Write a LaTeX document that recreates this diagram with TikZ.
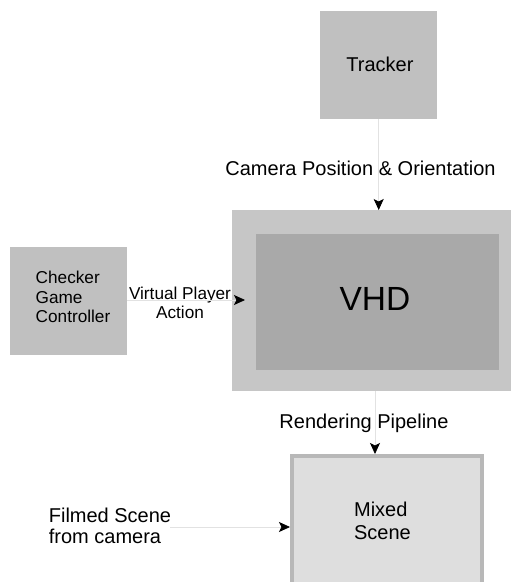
\documentclass[tikz,border=0pt]{standalone}
\usepackage{fontspec}
\setmainfont{Liberation Sans}
\usetikzlibrary{arrows.meta,positioning}
\definecolor{boxgray}{HTML}{C0C0C0}
\definecolor{outergray}{HTML}{C6C6C6}
\definecolor{innergray}{HTML}{A9A9A9}
\definecolor{mixfill}{HTML}{DEDEDE}
\definecolor{mixborder}{HTML}{B8B8B8}
\definecolor{linegray}{HTML}{E2E2E2}
\tikzset{
  block/.style={draw=none, fill=boxgray, inner sep=0pt, anchor=north west},
  lbl/.style={inner sep=0pt, align=center, font=\fontsize{20}{23}\selectfont},
  conn/.style={draw=linegray, line width=0.8pt, -{Stealth[black,fill=black,length=11pt,width=10pt,inset=2.5pt]}}
}
\begin{document}
\begin{tikzpicture}[x=1pt,y=-1pt]
\useasboundingbox (0,0) rectangle (511,582);
\clip (0,0) rectangle (511,582);
\fill[white] (0,0) rectangle (511,582);
% Tracker
\node[block, minimum width=117pt, minimum height=108pt] (tracker) at (320,11) {};
\node[lbl] (trackertxt) at (380,64) {Tracker};
% VHD
\node[block, fill=outergray, minimum width=279pt, minimum height=181pt] (vhd) at (232,210) {};
\node[block, fill=innergray, minimum width=243pt, minimum height=136pt] (vhdin) at (256,234) {};
\node[inner sep=0pt, font=\fontsize{33.5}{38}\selectfont] (vhdtxt) at (375,299) {VHD};
% Checker
\node[block, minimum width=117pt, minimum height=108pt] (checker) at (10,247) {};
\node[inner sep=0pt, align=left, font=\fontsize{17.2}{19.5}\selectfont] (checkertxt) at (73,297) {Checker\\Game\\Controller};
% Mixed scene
\node[block, fill=mixfill, draw=mixborder, line width=4pt, minimum width=190pt, minimum height=160pt] (mixed) at (290,454) {};
\node[inner sep=0pt, align=left, font=\fontsize{20}{23}\selectfont] (mixedtxt) at (382.5,521) {Mixed\\Scene};
% Labels
\node[lbl] (camlbl) at (360.5,168) {Camera Position \& Orientation};
\node[inner sep=0pt, align=center, font=\fontsize{17.2}{19.5}\selectfont] (vpa) at (180,303) {Virtual Player\\Action};
\node[lbl] (renderlbl) at (364,423) {Rendering Pipeline};
\node[inner sep=0pt, align=left, font=\fontsize{20}{21}\selectfont] (filmed) at (110,526) {Filmed Scene\\from camera};
% Connectors
\coordinate (vpaend) at (245,300);
\coordinate (filmstart) at (170,527);
\coordinate (renderstart) at (375,391);
\draw[conn] (tracker.south) -- (tracker.south |- vhd.north);
\draw[conn] (checker.east |- vpaend) -- (vpaend);
\draw[conn] (renderstart) -- (renderstart |- mixed.north);
\draw[conn] (filmstart) -- (filmstart -| mixed.west);
\end{tikzpicture}
\end{document}
